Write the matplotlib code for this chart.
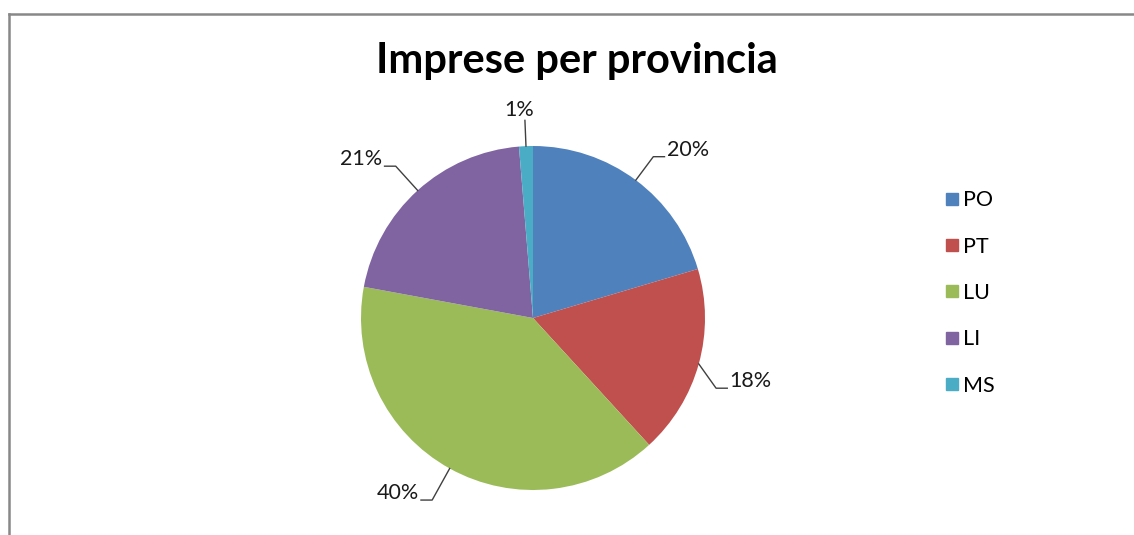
import numpy as np
import matplotlib
matplotlib.use("Agg")
import matplotlib.pyplot as plt
from matplotlib.lines import Line2D

categories = ["PO", "PT", "LU", "LI", "MS"]
values = [20.4, 17.8, 39.7, 20.8, 1.3]
colors = ["#4F81BD", "#C0504D", "#9BBB59", "#8064A2", "#4BACC6"]
title = "Imprese per provincia"

W, H = 1134, 535
fig = plt.figure(figsize=(W / 100, H / 100), dpi=100)
plt.rcParams['font.family'] = ['Lato', 'DejaVu Sans']

# pie axes (center ~ (533,318) px, radius ~172 px)
cx, cy, r = 533, 318, 172
ax = fig.add_axes([(cx - r) / W, (H - cy - r) / H, 2 * r / W, 2 * r / H])
wedges, _ = ax.pie(values, colors=colors, startangle=90, counterclock=False,
                   radius=1, wedgeprops=dict(linewidth=0))
ax.set_xlim(-1, 1)
ax.set_ylim(-1, 1)
ax.set_aspect('equal')
ax.axis('off')

# label placement tweaks (elbow radius factor, angle shift in degrees)
elbow_r = [1.17, 1.14, 1.21, 1.19, 1.15]
elbow_da = [0, -5.5, 0, 0, 0]

total = sum(values)
lc = "#404040"
fs = 15.5
for w, v, fr, da in zip(wedges, values, elbow_r, elbow_da):
    ang = np.deg2rad((w.theta1 + w.theta2) / 2)
    ex, ey = np.cos(ang), np.sin(ang)
    a2 = ang + np.deg2rad(da)
    kx, ky = np.cos(a2) * fr, np.sin(a2) * fr
    pct = f"{v / total * 100:.0f}%"
    if v / total < 0.03:
        ax.plot([ex, kx], [ey, ky], color=lc, lw=1, clip_on=False)
        ax.text(kx - 0.035, ky + 0.0, pct, ha='center', va='bottom', fontsize=fs,
                color="#1a1a1a")
        continue
    tail = 0.065 if ex > 0 else -0.065
    ax.plot([ex, kx, kx + tail], [ey, ky, ky], color=lc, lw=1, clip_on=False)
    ax.text(kx + tail + (0.012 if ex > 0 else -0.012), ky + 0.04, pct,
            ha='left' if ex > 0 else 'right', va='center', fontsize=fs,
            color="#1a1a1a")

fig.text(577 / W, 1 - 61 / H, title, ha='center', va='center',
         fontsize=30, fontweight='bold', color='black')

handles = [Line2D([0], [0], marker='s', linestyle='none', markersize=8,
                  markerfacecolor=c, markeredgecolor=c) for c in colors]
fig.legend(handles, categories, loc='center left',
           bbox_to_anchor=(924 / W, 1 - 293 / H), frameon=False,
           fontsize=fs, labelspacing=1.22, handletextpad=0.1,
           handlelength=0.8)

# partial chart border (top and left)
gray = "#888888"
fig.add_artist(Line2D([8.5 / W, 1], [1 - 14 / H, 1 - 14 / H], color=gray, lw=1.8,
                      transform=fig.transFigure))
fig.add_artist(Line2D([8.5 / W, 8.5 / W], [0, 1 - 14 / H], color=gray, lw=1.8,
                      transform=fig.transFigure))

fig.savefig("out.png", dpi=100, facecolor='white')
